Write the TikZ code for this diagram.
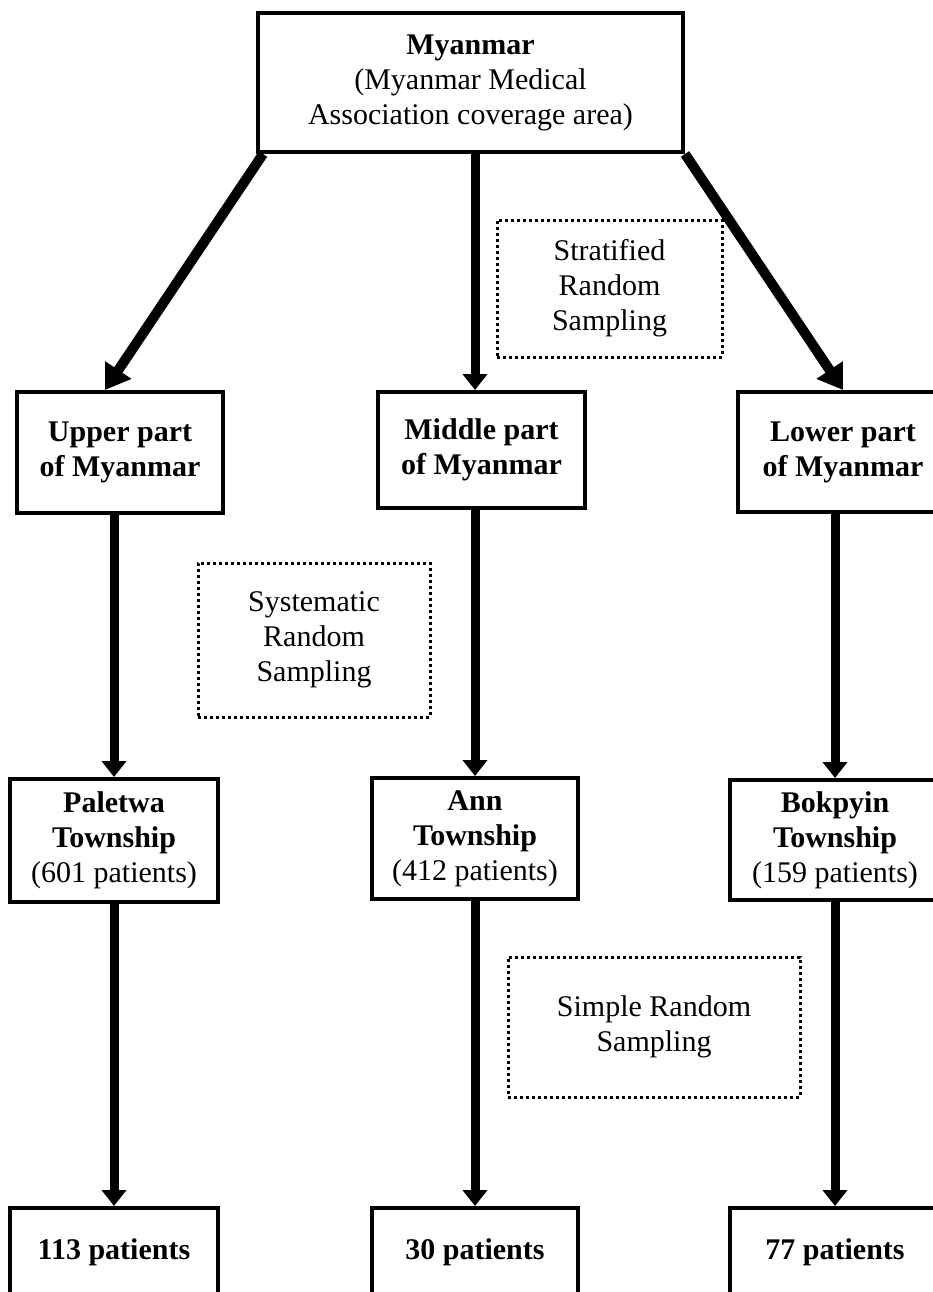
\documentclass[tikz,border=0pt]{standalone}
\usepackage{fontspec}
\setmainfont{Liberation Serif}
\usetikzlibrary{arrows.meta}

\begin{document}
\begin{tikzpicture}[
    x=1pt, y=-1pt,
    every node/.style={font=\fontsize{30}{35}\selectfont, align=center},
    box/.style={rectangle, draw=black, line width=4pt, inner sep=0pt},
    boldbox/.style={box, font=\fontsize{30}{35}\selectfont\bfseries},
    methodbox/.style={rectangle, draw=black, line width=3pt, dash pattern=on 3pt off 3pt, inner sep=0pt},
    flow/.style={line width=9pt, -{Triangle[width=24pt,length=16pt]}},
    slant/.style={line width=10pt, -{Triangle[width=30pt,length=24pt]}},
]
\useasboundingbox (0,0) rectangle (933,1292);
\clip (0,0) rectangle (933,1292);
% country
\node[box, minimum width=425pt, minimum height=139pt] (top) at (470.5,82.5) {\textbf{Myanmar}\\(Myanmar Medical\\Association coverage area)};
% regions
\node[boldbox, minimum width=206pt, minimum height=121pt] (upper) at (120,452.5) {Upper part\\of Myanmar};
\node[boldbox, minimum width=207pt, minimum height=116pt] (middle) at (481.5,450) {Middle part\\of Myanmar};
\node[boldbox, minimum width=210pt, minimum height=120pt] (lower) at (843,452) {Lower part\\of Myanmar};
% townships
\node[box, minimum width=208pt, minimum height=123pt] (paletwa) at (114,840.5) {\textbf{Paletwa}\\\textbf{Township}\\(601 patients)};
\node[box, minimum width=206pt, minimum height=121pt] (ann) at (475,838.5) {\textbf{Ann}\\\textbf{Township}\\(412 patients)};
\node[box, minimum width=210pt, minimum height=120pt] (bokpyin) at (835,840) {\textbf{Bokpyin}\\\textbf{Township}\\(159 patients)};
% samples
\node[boldbox, minimum width=208pt, minimum height=88pt] (n113) at (114,1252) {113 patients};
\node[boldbox, minimum width=206pt, minimum height=88pt] (n30) at (475,1252) {30 patients};
\node[boldbox, minimum width=210pt, minimum height=88pt] (n77) at (835,1252) {77 patients};
% sampling methods
\node[methodbox, minimum width=225pt, minimum height=137pt] (strat) at (609.5,288.5) {Stratified\\Random\\Sampling};
\node[methodbox, minimum width=232pt, minimum height=154pt] (syst) at (314,640) {Systematic\\Random\\Sampling};
\node[methodbox, minimum width=292pt, minimum height=140pt] (simple) at (654,1027) {Simple Random\\Sampling};
% connectors
\draw[slant] ([xshift=7pt]top.south west) -- ([xshift=-15pt]upper.north);
\draw[flow] (top.south -| ann.north) -- (middle.north -| ann.north);
\draw[slant] (top.south east) -- (lower.north);
\draw[flow] (upper.south -| paletwa.north) -- (paletwa.north);
\draw[flow] (middle.south -| ann.north) -- (ann.north);
\draw[flow] (lower.south -| bokpyin.north) -- (bokpyin.north);
\draw[flow] (paletwa.south) -- (n113.north);
\draw[flow] (ann.south) -- (n30.north);
\draw[flow] (bokpyin.south) -- (n77.north);
\end{tikzpicture}
\end{document}
